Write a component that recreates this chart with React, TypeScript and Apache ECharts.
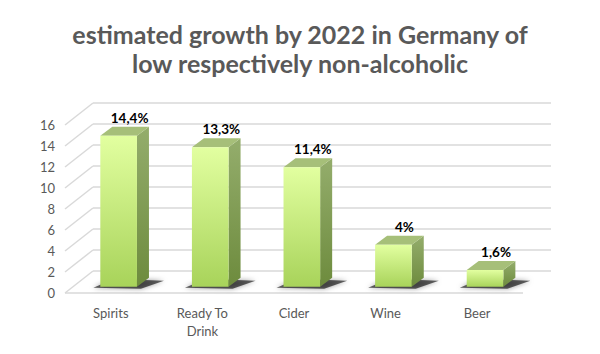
import React, { useEffect, useRef } from "react";
import * as echarts from "echarts";

const categories = ["Spirits", "Ready To\nDrink", "Cider", "Wine", "Beer"];
const values = [14.4, 13.3, 11.4, 4, 1.6];
const yTicks = [0, 2, 4, 6, 8, 10, 12, 14, 16];
const titleText = "estimated growth by 2022 in Germany of\nlow respectively non-alcoholic";

const DEPTH_X = 28;
const DEPTH_Y = -22;
const BAR_T0 = 0.28;
const BAR_DX = 12;
const BAR_DY = -9;
const GRID_COLOR = "#d9d9d9";

export default function App() {
  const ref = useRef<HTMLDivElement>(null);
  useEffect(() => {
    if (!ref.current) return;
    const chart = echarts.init(ref.current, null, { renderer: "svg" });
    const fmt = (v: number) => String(v).replace(".", ",") + "%";

    const option: any = {
      animation: false,
      backgroundColor: "#ffffff",
      title: {
        text: titleText,
        left: "center",
        top: 14,
        textStyle: {
          fontFamily: "Lato",
          fontSize: 25,
          fontWeight: "bold",
          color: "#595959",
          lineHeight: 29,
        },
      },
      grid: { left: 65, right: 77, top: 125, bottom: 61 },
      xAxis: {
        type: "category",
        data: categories,
        axisLine: { show: false },
        axisTick: { show: false },
        axisLabel: {
          fontFamily: "Lato",
          fontSize: 13,
          color: "#595959",
          margin: 11,
          lineHeight: 18,
          interval: 0,
        },
      },
      yAxis: {
        type: "value",
        min: 0,
        max: 16,
        interval: 2,
        axisLine: { show: false },
        axisTick: { show: false },
        splitLine: { show: false },
        axisLabel: {
          fontFamily: "Lato",
          fontSize: 13,
          color: "#595959",
          margin: 10,
        },
      },
      series: [
        {
          type: "custom",
          clip: false,
          z: 1,
          data: yTicks.map((v) => [0, v]),
          encode: { x: 0, y: 1 },
          renderItem: (params: any, api: any) => {
            const v = api.value(1);
            const cs = params.coordSys;
            const y = api.coord([0, v])[1];
            const left = cs.x;
            const right = cs.x + cs.width;
            const children: any[] = [
              {
                type: "line",
                shape: { x1: left, y1: y, x2: left + DEPTH_X, y2: y + DEPTH_Y },
                style: { stroke: GRID_COLOR, lineWidth: 1.5 },
              },
              {
                type: "line",
                shape: { x1: left + DEPTH_X, y1: y + DEPTH_Y, x2: right + DEPTH_X, y2: y + DEPTH_Y },
                style: { stroke: GRID_COLOR, lineWidth: 1.5 },
              },
            ];
            if (v === 0) {
              children.push({
                type: "line",
                shape: { x1: left, y1: y, x2: right, y2: y },
                style: { stroke: GRID_COLOR, lineWidth: 1.5 },
              });
            }
            return { type: "group", children };
          },
        },
        {
          type: "custom",
          clip: false,
          z: 2,
          data: values.map((v, i) => [i, v]),
          encode: { x: 0, y: 1 },
          renderItem: (params: any, api: any) => {
            const i = api.value(0);
            const v = api.value(1);
            const top = api.coord([i, v]);
            const base = api.coord([i, 0]);
            const band = api.size([1, 0])[0];
            const w = band * 0.4;
            const ox = DEPTH_X * BAR_T0;
            const oy = DEPTH_Y * BAR_T0;
            const x0 = top[0] - w / 2 + ox;
            const x1 = top[0] + w / 2 + ox;
            const yt = top[1] + oy;
            const yb = base[1] + oy;
            return {
              type: "group",
              children: [
                {
                  type: "polygon",
                  shape: {
                    points: [
                      [x0 - 7, yb + 1],
                      [x1 + 4, yb + 2],
                      [x1 + BAR_DX + 15, yb + BAR_DY + 3],
                      [x0 + BAR_DX + 2, yb + BAR_DY + 1],
                    ],
                  },
                  style: {
                    fill: "rgba(0,0,0,0.6)",
                    shadowBlur: 5,
                    shadowColor: "rgba(0,0,0,0.65)",
                  },
                },
                {
                  type: "polygon",
                  shape: {
                    points: [
                      [x1, yt],
                      [x1 + BAR_DX, yt + BAR_DY],
                      [x1 + BAR_DX, yb + BAR_DY],
                      [x1, yb],
                    ],
                  },
                  style: {
                    fill: new echarts.graphic.LinearGradient(0, 0, 0, 1, [
                      { offset: 0, color: "#94ad6c" },
                      { offset: 1, color: "#6d8b3d" },
                    ]),
                  },
                },
                {
                  type: "polygon",
                  shape: {
                    points: [
                      [x0, yt],
                      [x0 + BAR_DX, yt + BAR_DY],
                      [x1 + BAR_DX, yt + BAR_DY],
                      [x1, yt],
                    ],
                  },
                  style: { fill: "#a6bf79" },
                },
                {
                  type: "rect",
                  shape: { x: x0, y: yt, width: x1 - x0, height: yb - yt },
                  style: {
                    fill: new echarts.graphic.LinearGradient(0, 0, 0, 1, [
                      { offset: 0, color: "#e2ffa0" },
                      { offset: 1, color: "#a8d35a" },
                    ]),
                  },
                },
                {
                  type: "text",
                  style: {
                    text: fmt(v),
                    x: (x0 + x1) / 2 + 11,
                    y: yt - 11,
                    align: "center",
                    verticalAlign: "bottom",
                    fontFamily: "Lato",
                    fontSize: 13.5,
                    fontWeight: "bold",
                    fill: "#000000",
                  },
                },
              ],
            };
          },
        },
      ],
    };
    chart.setOption(option);
    return () => chart.dispose();
  }, []);
  return (
    <div
      ref={ref}
      style={{ position: "absolute", left: 0, top: 0, width: 600, height: 354 }}
    />
  );
}
